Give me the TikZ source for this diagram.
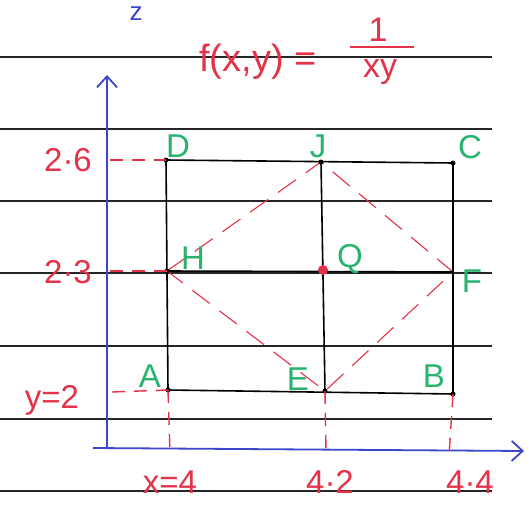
\documentclass[tikz,border=0pt]{standalone}
\usepackage{fontspec}
\setmainfont{Liberation Sans}
\usetikzlibrary{arrows.meta}
\definecolor{penred}{RGB}{228,50,72}
\definecolor{pengreen}{RGB}{40,180,110}
\definecolor{penblue}{RGB}{60,70,205}
\begin{document}
\begin{tikzpicture}[x=1pt,y=-1pt,
  rule/.style={black!85, line width=1.3pt},
  frame/.style={black, line width=1.6pt},
  axisline/.style={penblue, line width=1.8pt, -{Straight Barb[length=11pt,width=20pt,line width=1.8pt]}},
  guide/.style={penred, line width=1.4pt, dash pattern=on 13pt off 9pt},
  diam/.style={penred, line width=1.1pt, dash pattern=on 22pt off 12pt},
  redlbl/.style={text=penred, font=\fontsize{33}{33}\selectfont, inner sep=0pt},
  greenlbl/.style={text=pengreen, font=\fontsize{33}{33}\selectfont, inner sep=0pt},
  dot/.style={circle, fill=black, inner sep=0pt, minimum size=5pt}]
\useasboundingbox (0,0) rectangle (531,506);
\fill[white] (0,0) rectangle (531,506);
% ruled paper
\foreach \yy in {57,129,201,273,346,419,491} \draw[rule] (0,\yy) -- (492,\yy);
% axes
\coordinate (yb) at (107,447);
\coordinate (yt) at (107,75);
\coordinate (xl) at (93,448);
\coordinate (xr) at (524,451);
\draw[axisline] (yb) -- (yt);
\draw[axisline] (xl) -- (xr);
\node[text=penblue, font=\fontsize{26}{26}\selectfont, inner sep=0pt] (zlbl) at (136,14) {z};
% grid points
\coordinate (D) at (166,160);
\coordinate (C) at (453,163);
\coordinate (A) at (168,390);
\coordinate (B) at (453,394);
\coordinate (J) at (321,162);
\coordinate (E) at (325,391);
\coordinate (H) at (167,271);
\coordinate (F) at (453,272);
\coordinate (Q) at (323,270);
% diamond
\draw[diam] (H) -- (J) -- (F) -- (E) -- cycle;
% rectangle and midlines
\draw[frame] (D) -- (C) -- (B) -- (A) -- cycle;
\draw[frame] (H) -- (F);
\draw[frame] (J) -- (E);
\foreach \p in {A,B,C,D,E,H,J} \node[dot] at (\p) {};
\node[circle, fill=penred, inner sep=0pt, minimum size=10pt] (Qdot) at (Q) {};
% guide dashes
\coordinate (g26) at (110,160);
\coordinate (g23) at (110,271);
\coordinate (g2) at (112,392);
\coordinate (tx4) at (170,452);
\coordinate (tx42) at (326,452);
\coordinate (tx44) at (449,456);
\draw[guide] (g26) -- (D);
\draw[guide] (g23) -- (H);
\draw[guide] (g2) -- (A);
\draw[guide] (A) -- (tx4);
\draw[guide] (E) -- (tx42);
\draw[guide] (B) -- (tx44);
% red labels
\node[redlbl] (l26) at (68,160) {2·6};
\node[redlbl] (l23) at (68,272) {2·3};
\node[redlbl] (ly) at (52,400) {y=2};
\node[redlbl] (lx4) at (170,482) {x=4};
\node[redlbl] (lx42) at (330,482) {4·2};
\node[redlbl] (lx44) at (470,482) {4·4};
% function
\node[text=penred, font=\fontsize{38}{38}\selectfont, inner sep=0pt] (fn) at (258,62) {f(x,y) =};
\node[text=penred, font=\fontsize{34}{34}\selectfont, inner sep=0pt] (num) at (378,30) {1};
\node[text=penred, font=\fontsize{34}{34}\selectfont, inner sep=0pt] (den) at (380,72) {xy};
\coordinate (barl) at (350,47);
\coordinate (barr) at (414,47);
\draw[penred, line width=2.2pt] (barl) -- (barr);
% green labels
\node[greenlbl] (lD) at (178,146) {D};
\node[greenlbl] (lJ) at (318,146) {J};
\node[greenlbl] (lC) at (470,147) {C};
\node[greenlbl] (lH) at (193,258) {H};
\node[greenlbl] (lQ) at (350,259) {Q};
\node[greenlbl] (lF) at (472,281) {F};
\node[greenlbl] (lA) at (150,376) {A};
\node[greenlbl] (lE) at (298,379) {E};
\node[greenlbl] (lB) at (434,376) {B};
\end{tikzpicture}
\end{document}
